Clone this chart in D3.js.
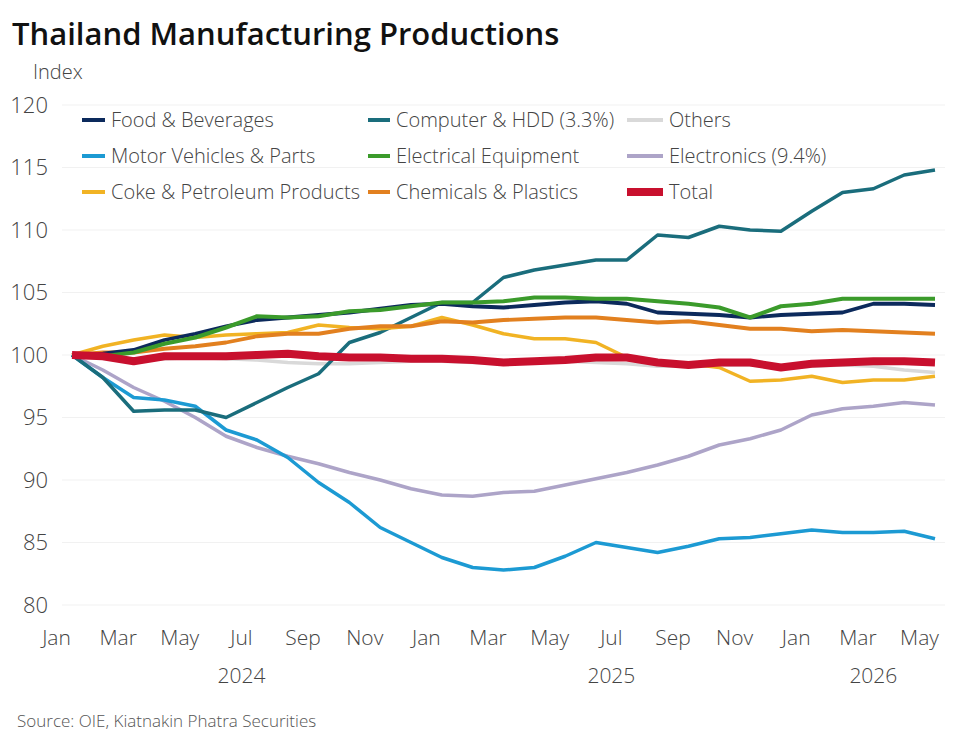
<!DOCTYPE html>
<html>
<head>
<meta charset="utf-8">
<script src="https://cdn.jsdelivr.net/npm/d3@7"></script>
<style>
  body { margin: 0; background: #fff; }
  svg { font-family: "Open Sans", sans-serif; font-weight: 300; }
</style>
</head>
<body>
<svg id="chart" width="975" height="750"></svg>
<script>
// months Jan 2024 .. May 2026
const months = ["Jan","Feb","Mar","Apr","May","Jun","Jul","Aug","Sep","Oct","Nov","Dec",
  "Jan","Feb","Mar","Apr","May","Jun","Jul","Aug","Sep","Oct","Nov","Dec",
  "Jan","Feb","Mar","Apr","May"];
const years = ["2024","2025","2026"];
const yTicks = [80, 85, 90, 95, 100, 105, 110, 115, 120];

const food = [100,100.1,100.4,101.2,101.7,102.3,102.8,103.0,103.2,103.4,103.7,104.0,
  104.1,103.9,103.8,104.0,104.2,104.3,104.1,103.4,103.3,103.2,103.0,103.2,103.3,103.4,104.1,104.1,104.0];
const computer = [100,98.2,95.5,95.6,95.6,95.0,96.2,97.4,98.5,101.0,101.8,103.0,
  104.2,104.2,106.2,106.8,107.2,107.6,107.6,109.6,109.4,110.3,110.0,109.9,111.5,113.0,113.3,114.4,114.8];
const others = [100,99.8,99.6,99.7,99.8,99.7,99.6,99.4,99.3,99.3,99.4,99.5,
  99.5,99.4,99.3,99.4,99.5,99.4,99.3,99.1,99.1,99.2,99.2,99.0,99.1,99.2,99.1,98.8,98.6];
const motor = [100,98.2,96.6,96.4,95.9,94.0,93.2,91.8,89.8,88.2,86.2,85.0,
  83.8,83.0,82.8,83.0,83.9,85.0,84.6,84.2,84.7,85.3,85.4,85.7,86.0,85.8,85.8,85.9,85.3];
const electrical = [100,99.9,100.2,100.9,101.4,102.2,103.1,103.0,103.1,103.5,103.6,103.9,
  104.2,104.2,104.3,104.6,104.6,104.5,104.5,104.3,104.1,103.8,103.0,103.9,104.1,104.5,104.5,104.5,104.5];
const electronics = [100,98.8,97.4,96.3,95.0,93.5,92.6,91.9,91.3,90.6,90.0,89.3,
  88.8,88.7,89.0,89.1,89.6,90.1,90.6,91.2,91.9,92.8,93.3,94.0,95.2,95.7,95.9,96.2,96.0];
const coke = [100,100.7,101.2,101.6,101.4,101.6,101.7,101.8,102.4,102.2,102.1,102.3,
  103.0,102.4,101.7,101.3,101.3,101.0,99.8,99.3,99.3,99.0,97.9,98.0,98.3,97.8,98.0,98.0,98.3];
const chemicals = [100,100.2,100.2,100.5,100.7,101.0,101.5,101.7,101.7,102.1,102.3,102.3,
  102.7,102.6,102.8,102.9,103.0,103.0,102.8,102.6,102.7,102.4,102.1,102.1,101.9,102.0,101.9,101.8,101.7];
const total = [100,99.9,99.5,99.9,99.9,99.9,100.0,100.1,99.9,99.8,99.8,99.7,
  99.7,99.6,99.4,99.5,99.6,99.8,99.8,99.4,99.2,99.4,99.4,99.0,99.3,99.4,99.5,99.5,99.4];

// draw order (bottom to top)
const series = [
  {name: "Others", values: others, color: "#d9d9d9", width: 3.5},
  {name: "Electronics (9.4%)", values: electronics, color: "#ada4c8", width: 3.5},
  {name: "Motor Vehicles & Parts", values: motor, color: "#1c9ad3", width: 3.5},
  {name: "Computer & HDD (3.3%)", values: computer, color: "#1a6d7c", width: 3.5},
  {name: "Coke & Petroleum Products", values: coke, color: "#f1b324", width: 3.5},
  {name: "Chemicals & Plastics", values: chemicals, color: "#e2801f", width: 3.8},
  {name: "Food & Beverages", values: food, color: "#0c2a5c", width: 3.8},
  {name: "Electrical Equipment", values: electrical, color: "#3b9b2b", width: 4},
  {name: "Total", values: total, color: "#c8102e", width: 8}
];

// legend layout: rows of three
const legendOrder = [
  ["Food & Beverages", "Computer & HDD (3.3%)", "Others"],
  ["Motor Vehicles & Parts", "Electrical Equipment", "Electronics (9.4%)"],
  ["Coke & Petroleum Products", "Chemicals & Plastics", "Total"]
];

const svg = d3.select("#chart");

const x = d3.scaleLinear().domain([0, months.length - 1]).range([72, 935]);
const y = d3.scaleLinear().domain([80, 120]).range([605, 105]);

// title
svg.append("text")
  .attr("x", 12).attr("y", 45)
  .attr("font-size", 31).attr("font-weight", 600)
  .attr("fill", "#111")
  .text("Thailand Manufacturing Productions");

svg.append("text")
  .attr("x", 33).attr("y", 79)
  .attr("font-size", 20).attr("fill", "#444")
  .text("Index");

// grid
svg.append("g")
  .selectAll("line")
  .data(yTicks)
  .join("line")
  .attr("x1", 62).attr("x2", 945)
  .attr("y1", d => y(d)).attr("y2", d => y(d))
  .attr("stroke", "#f1f1f1").attr("stroke-width", 1);

// y axis labels
const yAxis = d3.axisLeft(y).tickValues(yTicks).tickSize(0).tickPadding(0);
svg.append("g")
  .attr("transform", "translate(48,0)")
  .call(yAxis)
  .attr("font-family", null)
  .call(g => g.select(".domain").remove())
  .call(g => g.selectAll("text")
    .attr("font-size", 22).attr("fill", "#444"));

// x axis month labels every 2 months
const xTicks = d3.range(0, months.length, 2);
const xAxis = d3.axisBottom(x).tickValues(xTicks).tickSize(0).tickPadding(0)
  .tickFormat(i => months[i]);
svg.append("g")
  .attr("transform", "translate(-16,630)")
  .call(xAxis)
  .attr("font-family", null)
  .call(g => g.select(".domain").remove())
  .call(g => g.selectAll("text")
    .attr("font-size", 21).attr("fill", "#444"));

// year labels centred over each year's months
svg.append("g")
  .selectAll("text")
  .data(years)
  .join("text")
  .attr("x", (d, k) => {
    const idx = d3.range(k * 12, Math.min(k * 12 + 12, months.length));
    return (x(idx[0]) + x(idx[idx.length - 1])) / 2;
  })
  .attr("y", 683)
  .attr("text-anchor", "middle")
  .attr("font-size", 21).attr("fill", "#444")
  .text(d => d);

// lines
const line = d3.line().x((d, i) => x(i)).y(d => y(d));
svg.append("g")
  .selectAll("path")
  .data(series)
  .join("path")
  .attr("d", d => line(d.values))
  .attr("fill", "none")
  .attr("stroke", d => d.color)
  .attr("stroke-width", d => d.width)
  .attr("stroke-linejoin", "round")
  .attr("stroke-linecap", "butt");

// legend
const colX = [82, 368, 627];
const swatchW = [23, 22, 36];
const rowY = [120, 156, 192];
const lookup = new Map(series.map(s => [s.name, s]));
legendOrder.forEach((row, r) => {
  row.forEach((name, c) => {
    const s = lookup.get(name);
    const g = svg.append("g").attr("transform", `translate(${colX[c]},${rowY[r]})`);
    g.append("line")
      .attr("x1", 0).attr("x2", swatchW[c])
      .attr("y1", 0).attr("y2", 0)
      .attr("stroke", s.color)
      .attr("stroke-width", name === "Total" ? 8 : 4);
    g.append("text")
      .attr("x", swatchW[c] + 6).attr("y", 0)
      .attr("dy", "0.36em")
      .attr("font-size", 20).attr("fill", "#444")
      .text(name);
  });
});

// source
svg.append("text")
  .attr("x", 17).attr("y", 727)
  .attr("font-size", 17).attr("fill", "#555")
  .text("Source: OIE, Kiatnakin Phatra Securities");
</script>
</body>
</html>
